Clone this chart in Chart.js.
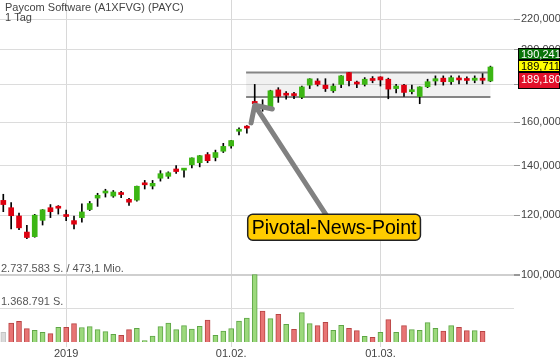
<!DOCTYPE html>
<html>
<head>
<meta charset="utf-8">
<script src="https://cdn.jsdelivr.net/npm/chart.js@4.4.0/dist/chart.umd.min.js"></script>
<style>
  html, body { margin: 0; padding: 0; background: #fff; }
  canvas { display: block; }
</style>
</head>
<body>
<canvas id="kursChart" width="560" height="362"></canvas>
<script>
// Paycom Software (PAYC), Tageskerzen 19.12.2018 - 21.03.2019
const dates = [
  '2018-12-19','2018-12-20','2018-12-21','2018-12-24','2018-12-26','2018-12-27','2018-12-28','2018-12-31',
  '2019-01-02','2019-01-03','2019-01-04','2019-01-07','2019-01-08','2019-01-09','2019-01-10','2019-01-11',
  '2019-01-14','2019-01-15','2019-01-16','2019-01-17','2019-01-18','2019-01-22','2019-01-23','2019-01-24',
  '2019-01-25','2019-01-28','2019-01-29','2019-01-30','2019-01-31','2019-02-01','2019-02-04','2019-02-05',
  '2019-02-06','2019-02-07','2019-02-08','2019-02-11','2019-02-12','2019-02-13','2019-02-14','2019-02-15',
  '2019-02-19','2019-02-20','2019-02-21','2019-02-22','2019-02-25','2019-02-26','2019-02-27','2019-02-28',
  '2019-03-01','2019-03-04','2019-03-05','2019-03-06','2019-03-07','2019-03-08','2019-03-11','2019-03-12',
  '2019-03-13','2019-03-14','2019-03-15','2019-03-18','2019-03-19','2019-03-20','2019-03-21'
];
const open = [125.7,122.9,119.8,114.0,112.4,118.2,122.9,122.9,119.8,118.1,119.2,122.2,126.6,128.6,127.4,128.2,
  126.1,125.8,132.1,131.4,134.6,135.4,138.5,138.0,140.3,141.2,144.8,143.5,146.3,148.7,155.6,157.3,
  170.6,166.9,167.6,176.8,174.7,174.2,172.8,179.4,181.7,179.4,176.3,179.8,186.5,180.2,179.8,182.2,
  184.0,182.7,177.5,179.4,175.8,173.2,178.5,181.7,183.3,181.3,183.3,182.2,182.1,183.3,181.7];
const high = [128.1,124.9,120.9,116.4,120.4,122.2,124.1,123.7,122.0,119.8,124.4,125.3,128.5,130.1,129.6,129.3,
  126.5,131.4,133.7,133.7,137.8,137.3,140.0,138.6,143.4,144.4,145.7,146.8,149.9,151.3,157.3,158.4,
  179.8,171.5,176.6,178.0,175.8,175.4,178.9,183.0,183.0,183.0,180.1,184.7,186.6,181.7,183.6,184.2,
  184.1,183.3,179.8,179.8,179.4,178.5,182.7,184.6,184.6,184.6,184.6,184.0,184.6,185.9,190.241];
const low = [121.4,115.1,114.8,111.7,112.2,116.5,119.2,120.5,118.1,115.1,117.5,121.8,123.4,127.0,126.9,126.8,
  123.8,125.4,130.2,130.2,133.4,134.5,136.6,135.0,139.0,139.4,141.2,142.0,145.7,147.7,153.8,154.7,
  168.0,165.5,166.3,170.1,171.8,172.1,172.0,177.5,178.9,175.9,175.4,178.0,178.9,178.0,178.9,180.7,
  178.9,172.0,175.1,173.3,174.6,169.4,178.0,179.4,179.4,179.8,180.1,180.1,180.7,180.1,181.3];
const close = [124.1,119.9,115.5,112.1,120.1,122.1,121.4,122.7,119.6,116.8,121.3,124.5,127.7,128.8,129.0,128.0,
  125.0,131.3,131.9,132.5,136.5,136.9,137.4,138.5,143.3,144.3,142.1,145.7,148.5,151.2,156.3,157.1,
  169.4,168.6,176.3,173.3,173.9,173.7,178.4,182.9,179.8,177.5,178.9,184.6,181.9,180.0,182.7,182.0,
  182.3,177.2,178.9,175.4,176.8,178.4,181.3,183.0,181.3,183.6,182.3,182.0,183.3,182.1,189.711];
const volume = [392000,768000,837000,542000,473000,392000,340000,594000,600000,744000,590000,623000,501000,421000,311000,271000,
  501000,554000,57000,243000,623000,768000,501000,663000,526000,635000,890000,271000,445000,542000,849000,971000,
  2737583,1254000,946000,1120000,716000,514000,1189000,744000,663000,797000,473000,675000,554000,461000,231000,190000,
  392000,906000,392000,663000,501000,473000,785000,554000,445000,663000,594000,461000,461000,433000,null];
const umsatzMio = 473.1;
const priceTicks = [100, 120, 140, 160, 180, 200, 220];
const quotes = [190.241, 189.711, 189.180];
const rangeBox = { from: 30.9, to: 62.0, top: 186.5, bottom: 172.9 };
const note = { text: 'Pivotal-News-Point', x: 42.1, y: 115.7, tipX: 32, tipY: 168.6 };

const GREEN = '#3cb614', RED = '#dd0010';
const de3 = v => v.toFixed(3).replace('.', ',');
const deInt = v => v.toLocaleString('de-DE');

const tickIdx = dates.map((d, i) => i).filter(i => i > 0 && dates[i].slice(5, 7) !== dates[i - 1].slice(5, 7));
function tickText(i) {
  const [yy, mm, dd] = dates[i].split('-');
  return mm === '01' ? yy : dd + '.' + mm + '.';
}

const volMax = Math.max(...volume.filter(v => v != null));

const bodies = dates.map((d, i) => ({ x: i, y: [open[i], close[i]] }));
const wicks = dates.map((d, i) => ({ x: i, y: [low[i], high[i]] }));
const vols = volume.map((v, i) => ({ x: i, y: v }));
const bodyColors = close.map((c, i) => c >= open[i] ? GREEN : RED);
const volFill = close.map((c, i) => i === 0 ? '#dadada' : (c >= close[i - 1] ? '#9cd97c' : '#e87474'));
const volBorder = close.map((c, i) => i === 0 ? '#c4c4c4' : (c >= close[i - 1] ? '#5ea646' : '#b84444'));

Chart.defaults.font.family = '"Liberation Sans", Arial, sans-serif';

const extras = {
  id: 'extras',
  beforeDatasetsDraw(chart) {
    const { ctx, scales: { x, y } } = chart;
    const x0 = x.getPixelForValue(rangeBox.from), x1 = x.getPixelForValue(rangeBox.to);
    const yt = y.getPixelForValue(rangeBox.top), yb = y.getPixelForValue(rangeBox.bottom);
    ctx.save();
    ctx.fillStyle = 'rgba(0,0,0,0.055)';
    ctx.fillRect(x0, yt, x1 - x0, yb - yt);
    ctx.strokeStyle = '#858585';
    ctx.lineWidth = 2;
    ctx.beginPath();
    ctx.moveTo(x0, yt); ctx.lineTo(x1, yt);
    ctx.moveTo(x0, yb); ctx.lineTo(x1, yb);
    ctx.stroke();
    ctx.restore();
  },
  afterDatasetsDraw(chart) {
    const { ctx, scales: { x, y } } = chart;
    ctx.save();
    ctx.font = '19.5px "Liberation Sans", Arial, sans-serif';
    const tw = ctx.measureText(note.text).width;
    const cx = x.getPixelForValue(note.x), cy = y.getPixelForValue(note.y);
    const bw = tw + 8, bh = 26;
    const bx = cx - bw / 2, by = cy - bh / 2;
    // Pfeil
    const tx = x.getPixelForValue(note.tipX), ty = y.getPixelForValue(note.tipY);
    const sx = cx - 7, sy = by + 2;
    const ang = Math.atan2(sy - ty, sx - tx);
    ctx.strokeStyle = '#818181';
    ctx.lineWidth = 5;
    ctx.lineCap = 'round';
    ctx.lineJoin = 'round';
    ctx.beginPath();
    ctx.moveTo(sx, sy); ctx.lineTo(tx + 2 * Math.cos(ang), ty + 2 * Math.sin(ang));
    ctx.moveTo(tx + 18 * Math.cos(ang - 0.78), ty + 18 * Math.sin(ang - 0.78));
    ctx.lineTo(tx, ty);
    ctx.lineTo(tx + 18 * Math.cos(ang + 0.78), ty + 18 * Math.sin(ang + 0.78));
    ctx.stroke();
    // Box
    ctx.fillStyle = '#ffcc00';
    ctx.strokeStyle = '#222';
    ctx.lineWidth = 1.5;
    ctx.beginPath();
    ctx.roundRect(bx, by, bw, bh, 5);
    ctx.fill();
    ctx.stroke();
    ctx.fillStyle = '#000';
    ctx.textAlign = 'center';
    ctx.textBaseline = 'middle';
    ctx.fillText(note.text, cx, cy + 1);
    ctx.restore();
  },
  afterDraw(chart) {
    const { ctx, scales: { yv } } = chart;
    ctx.save();
    ctx.fillStyle = '#444';
    ctx.font = '11px "Liberation Sans", Arial, sans-serif';
    ctx.textBaseline = 'alphabetic';
    ctx.fillText('Paycom Software (A1XFVG) (PAYC)', 5, 11);
    ctx.fillText('1 Tag', 5, 20.5);
    ctx.fillStyle = '#555';
    ctx.fillText(deInt(volMax) + ' S. / ' + umsatzMio.toFixed(1).replace('.', ',') + ' Mio.', 1, yv.getPixelForValue(volMax) - 3);
    ctx.fillText(deInt(Math.floor(volMax / 2)) + ' S.', 1, yv.getPixelForValue(volMax / 2) - 3);
    // Kursboxen
    const boxes = [
      { bg: '#0a740a', fg: '#fff', y: 48, h: 12, ty: 6.5 },
      { bg: '#ffff00', fg: '#000', y: 60, h: 12, ty: 6.5 },
      { bg: '#e2102a', fg: '#fff', y: 72, h: 17, ty: 8 }
    ];
    boxes.forEach((b, i) => {
      ctx.fillStyle = b.bg;
      ctx.fillRect(518, b.y, 42, b.h);
      ctx.strokeStyle = '#000';
      ctx.lineWidth = 1;
      ctx.strokeRect(518.5, b.y + 0.5, 41, b.h - 1);
      ctx.fillStyle = b.fg;
      ctx.textBaseline = 'middle';
      ctx.fillText(de3(quotes[i]), 521, b.y + b.ty);
    });
    ctx.restore();
  }
};

new Chart(document.getElementById('kursChart'), {
  type: 'bar',
  data: {
    datasets: [
      {
        label: 'Kerzen', data: bodies, yAxisID: 'y', order: 0, grouped: false,
        backgroundColor: bodyColors, barThickness: 5, minBarLength: 2, borderWidth: 0
      },
      {
        label: 'Dochte', data: wicks, yAxisID: 'y', order: 1, grouped: false,
        backgroundColor: '#000', barThickness: 1, minBarLength: 1, borderWidth: 0
      },
      {
        label: 'Volumen', data: vols, yAxisID: 'yv', order: 2, grouped: false,
        backgroundColor: volFill, borderColor: volBorder, borderWidth: 1, barThickness: 5
      }
    ]
  },
  options: {
    responsive: false,
    animation: false,
    events: [],
    layout: { padding: 0, autoPadding: false },
    plugins: { legend: { display: false }, tooltip: { enabled: false } },
    scales: {
      x: {
        type: 'linear', min: -0.42, max: 65.0, offset: false,
        afterBuildTicks: s => { s.ticks = tickIdx.map(v => ({ value: v })); },
        afterFit: s => { s.height = 20; s.paddingLeft = 0; s.paddingRight = 0; },
        grid: { offset: false, color: '#d8d8d8', tickLength: 5 },
        border: { display: false },
        ticks: {
          color: '#444', font: { size: 11 }, padding: 0, maxRotation: 0, autoSkip: false,
          callback: v => tickText(v)
        }
      },
      y: {
        type: 'logarithmic', position: 'right', min: 81.2, max: 233.3,
        afterBuildTicks: s => { s.ticks = priceTicks.map(v => ({ value: v })); },
        afterFit: s => { s.width = 46; s.paddingTop = 0; s.paddingBottom = 0; },
        grid: {
          color: c => c.tick && c.tick.value === 100 ? '#cfcfcf' : '#dcdcdc',
          lineWidth: c => c.tick && c.tick.value === 100 ? 2 : 1,
          tickColor: '#999', tickLength: 6
        },
        border: { display: false },
        ticks: { color: '#444', font: { size: 11 }, padding: 1, callback: v => de3(v) }
      },
      yv: {
        type: 'linear', position: 'left', min: 0, max: volMax * 5.07,
        afterBuildTicks: s => { s.ticks = [{ value: volMax / 2 }]; },
        afterFit: s => { s.width = 0; s.paddingTop = 0; s.paddingBottom = 0; },
        grid: { color: '#dcdcdc', drawTicks: false },
        border: { display: false },
        ticks: { display: false }
      }
    }
  },
  plugins: [extras]
});
</script>
</body>
</html>
